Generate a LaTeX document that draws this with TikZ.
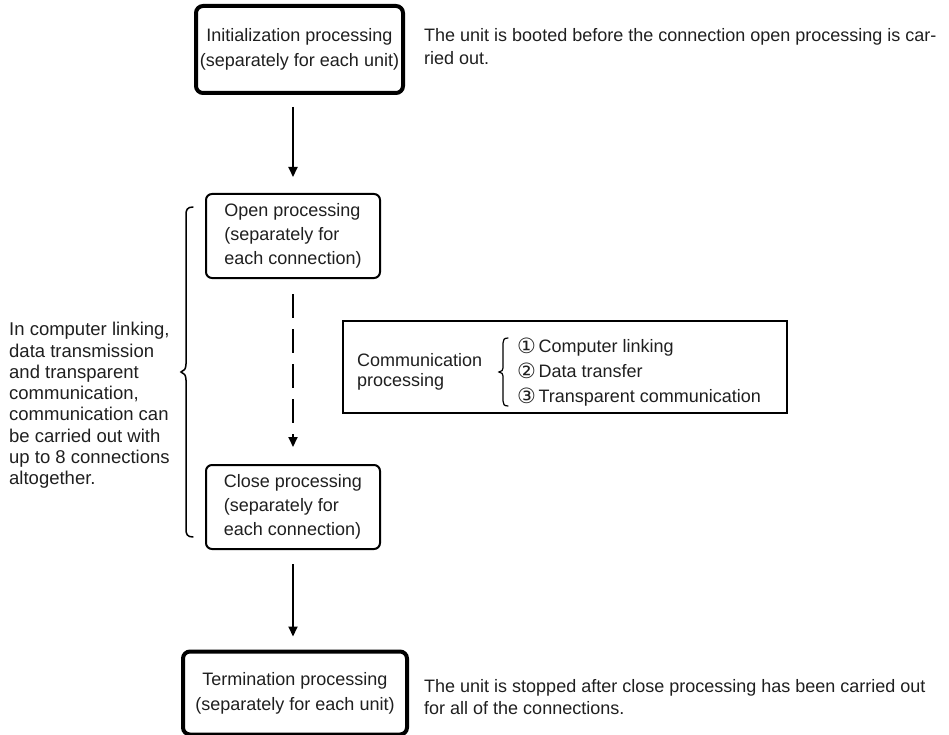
\documentclass[tikz,border=0pt]{standalone}
\usepackage{fontspec}
\setmainfont{Liberation Sans}
\newfontfamily\circfont{DejaVu Sans}
\usetikzlibrary{arrows.meta}
\newcommand{\circnum}[1]{\raisebox{-0.5pt}{\circfont\fontsize{21}{21}\selectfont #1}\hspace{2.5pt}}
\begin{document}
\begin{tikzpicture}[x=1pt,y=-1pt,
  txt/.style={font=\fontsize{18}{#1}\selectfont, text=black!88, inner sep=0pt},
  txt/.default=25,
  thickbox/.style={draw, line width=4pt, rounded corners=7pt, txt, align=center},
  thinbox/.style={draw, line width=2pt, rounded corners=6pt, txt=24, align=left},
  arrowline/.style={line width=2pt, -{Triangle[width=9pt,length=10pt]}},
  bracepen/.style={line width=1.5pt, line cap=round}]
\useasboundingbox (0,0) rectangle (949,735);

% process boxes
\node[thickbox, minimum width=207pt, minimum height=87pt] (init) at (299.5,49.5)
  {Initialization processing\\(separately for each unit)};
\node[thinbox, minimum width=174pt, minimum height=84pt] (open) at (293,236)
  {Open processing\\(separately for\\each connection)};
\node[thinbox, minimum width=174pt, minimum height=84pt] (close) at (293,507)
  {Close processing\\(separately for\\each connection)};
\node[thickbox, minimum width=224pt, minimum height=83pt] (term) at (295,693)
  {Termination processing\\(separately for each unit)};

% flow connectors
\draw[arrowline, shorten <=12pt, shorten >=16pt] (open.north |- init.south) -- (open.north);
\draw[arrowline, dash pattern=on 24pt off 11pt, shorten <=15pt, shorten >=17pt] (open.south) -- (close.north);
\draw[arrowline, shorten <=14pt, shorten >=13pt] (close.south) -- (close.south |- term.north);

% side notes
\node[txt=23, anchor=west, align=left] (initnote) at (424,46.5)
  {The unit is booted before the connection open processing is car-\\ried out.};
\node[txt=22, anchor=west, align=left] (termnote) at (424,697)
  {The unit is stopped after close processing has been carried out\\for all of the connections.};
\node[txt=21.3, anchor=west, align=left, font=\fontsize{18.5}{21.3}\selectfont] (leftnote) at (9,405.5)
  {In computer linking,\\data transmission\\and transparent\\communication,\\communication can\\be carried out with\\up to 8 connections\\altogether.};

% brace spanning open ... close
\draw[bracepen] (193,207) .. controls (187,207) and (186,210) .. (186,215)
  -- (186,364) .. controls (186,369) and (184,371) .. (181,372)
  .. controls (184,373) and (186,375) .. (186,380)
  -- (186,529) .. controls (186,534) and (187,537) .. (193,537);

% communication processing box
\node[draw, line width=2pt, minimum width=444pt, minimum height=92pt] (comm) at (565,367) {};
\node[txt=20, anchor=west, align=left] (commlabel) at (357,372)
  {Communication\\processing};
\node[txt=25, anchor=west, align=left] (commitems) at (517,372)
  {\circnum{①}Computer linking\\\circnum{②}Data transfer\\\circnum{③}Transparent communication};
\draw[bracepen, line width=1.2pt] (508,338) .. controls (504,338) and (503,340) .. (503,343)
  -- (503,368) .. controls (503,370) and (502,371.5) .. (499,372)
  .. controls (502,372.5) and (503,374) .. (503,376)
  -- (503,401) .. controls (503,404) and (504,406) .. (508,406);
\end{tikzpicture}
\end{document}
